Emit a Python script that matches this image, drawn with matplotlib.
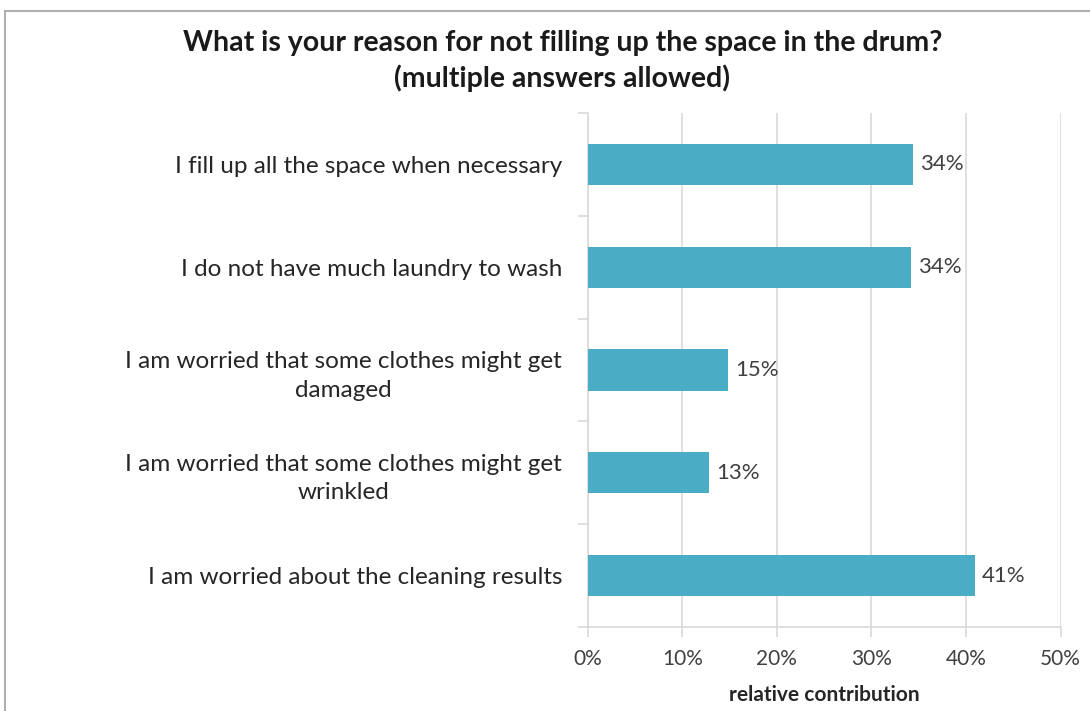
import matplotlib
matplotlib.use("Agg")
import numpy as np
from matplotlib import patches as patches
from matplotlib import pyplot as plt

# survey answers, top to bottom as shown
reasons = [
    "I fill up all the space when necessary",
    "I do not have much laundry to wash",
    "I am worried that some clothes might get\ndamaged",
    "I am worried that some clothes might get\nwrinkled",
    "I am worried about the cleaning results",
]
shares = [34.4, 34.2, 14.8, 12.8, 40.9]
share_labels = ["34%", "34%", "15%", "13%", "41%"]
x_ticks = [0, 10, 20, 30, 40, 50]
x_tick_labels = ["0%", "10%", "20%", "30%", "40%", "50%"]

plt.rcParams['font.family'] = ['Lato', 'DejaVu Sans']

bar_color = '#4BACC6'
grid_color = '#d9d9d9'
text_color = '#404040'

fig = plt.figure(figsize=(10.9, 7.11), dpi=100)
ax = fig.add_axes([0.5392, 0.1181, 0.4339, 0.7229])

# chart frame, running off the right and bottom edges
fig.patches.append(patches.Rectangle(
    (4.5 / 1090, -0.05), 1.2, 1 - 10.5 / 711 + 0.05,
    transform=fig.transFigure, linewidth=1.5,
    edgecolor='#b0b0b0', facecolor='none'))

y = np.arange(len(reasons))
ax.barh(y, shares, height=0.4, color=bar_color, zorder=3)
for yi, v, lab in zip(y, shares, share_labels):
    ax.text(v + 0.75, yi, lab, va='center', ha='left',
            fontsize=16, color=text_color)

ax.set_xlim(0, 50)
ax.set_ylim(len(reasons) - 0.5, -0.5)
ax.set_xticks(x_ticks)
ax.set_xticklabels(x_tick_labels, fontsize=15, color=text_color)
ax.set_yticks(y)
ax.set_yticklabels(reasons, fontsize=17.5, color='#262626',
                   ha='right', multialignment='center', linespacing=1.45)
ax.tick_params(axis='y', length=0, pad=18.5)
ax.set_yticks(np.arange(len(reasons) + 1) - 0.5, minor=True)
ax.tick_params(axis='y', which='minor', length=7, color=grid_color, width=1.2)
ax.tick_params(axis='x', length=7, color=grid_color, width=1.2, pad=9)

ax.grid(axis='x', color=grid_color, linewidth=1.2, zorder=0)
for side in ['top', 'right']:
    ax.spines[side].set_visible(False)
for side in ['left', 'bottom']:
    ax.spines[side].set_color(grid_color)
    ax.spines[side].set_linewidth(1.2)

ax.set_xlabel("relative contribution", fontsize=15, fontweight='bold',
              color='#262626', labelpad=11)

fig.text(0.516, 0.914,
         "What is your reason for not filling up the space in the drum?\n(multiple answers allowed)",
         ha='center', va='center', fontsize=20.5, fontweight='bold',
         color='#1a1a1a', linespacing=1.35)

fig.savefig("out.png", dpi=100)
